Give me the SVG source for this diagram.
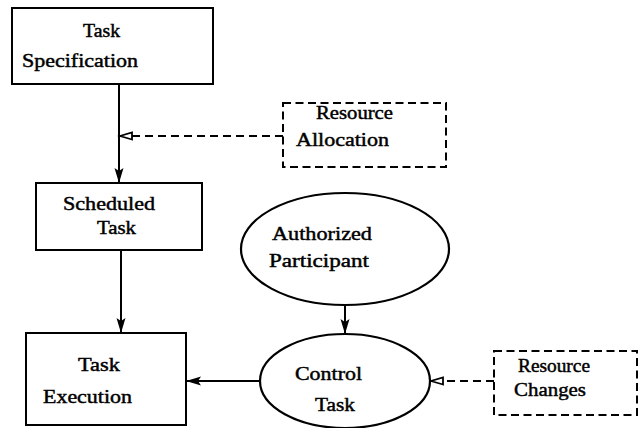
<svg xmlns="http://www.w3.org/2000/svg" width="639" height="428" viewBox="0 0 639 428">
  <style>
    .box { fill: #fff; stroke: #000; stroke-width: 2; }
    .dash { fill: #fff; stroke: #000; stroke-width: 2; stroke-dasharray: 8 4.5; }
    .oval { fill: #fff; stroke: #000; stroke-width: 2.2; }
    .lbl { font-family: "Liberation Serif", "Times New Roman", serif; font-size: 18.5px; fill: #000; stroke: #000; stroke-width: 0.45; }
    .edge { fill: none; stroke: #000; stroke-width: 2; }
    .edge-dash { fill: none; stroke: #000; stroke-width: 2; stroke-dasharray: 8 5; }
  </style>
  <defs>
    <marker id="solid-head" markerUnits="userSpaceOnUse" markerWidth="16" markerHeight="10" refX="15" refY="5" orient="auto">
      <path d="M0,0.5 L15,5 L0,9.5 L3,5 z" fill="#000" stroke="none"/>
    </marker>
    <marker id="open-head" markerUnits="userSpaceOnUse" markerWidth="16" markerHeight="12" refX="13" refY="5" orient="auto">
      <path d="M1,1.5 L13,5 L1,8.5 z" fill="#fff" stroke="#000" stroke-width="1.8" stroke-dasharray="none"/>
    </marker>
  </defs>

  <!-- connectors -->
  <g id="connectors">
    <path class="edge" d="M119,84 L119,183" marker-end="url(#solid-head)"/>
    <path class="edge-dash" d="M283,136 L120,136" marker-end="url(#open-head)"/>
    <path class="edge" d="M121,250 L121,333" marker-end="url(#solid-head)"/>
    <path class="edge" d="M345,305 L345,334" marker-end="url(#solid-head)"/>
    <path class="edge" d="M260,381 L186,381" marker-end="url(#solid-head)"/>
    <path class="edge-dash" d="M494,381 L431,381" marker-end="url(#open-head)"/>
  </g>

  <!-- nodes -->
  <g id="task-specification">
    <rect class="box" x="12" y="8" width="201" height="76"/>
    <text class="lbl" x="83" y="37" textLength="37" lengthAdjust="spacingAndGlyphs">Task</text>
    <text class="lbl" x="22" y="67" textLength="116" lengthAdjust="spacingAndGlyphs">Specification</text>
  </g>

  <g id="resource-allocation">
    <rect class="dash" x="283" y="103" width="163" height="64"/>
    <text class="lbl" x="316" y="119" textLength="77" lengthAdjust="spacingAndGlyphs">Resource</text>
    <text class="lbl" x="296" y="146" textLength="93" lengthAdjust="spacingAndGlyphs">Allocation</text>
  </g>

  <g id="scheduled-task">
    <rect class="box" x="36" y="183" width="166" height="67"/>
    <text class="lbl" x="63" y="210" textLength="92" lengthAdjust="spacingAndGlyphs">Scheduled</text>
    <text class="lbl" x="97" y="234" textLength="39" lengthAdjust="spacingAndGlyphs">Task</text>
  </g>

  <g id="authorized-participant">
    <ellipse class="oval" cx="345" cy="249" rx="104" ry="56"/>
    <text class="lbl" x="272" y="240" textLength="100" lengthAdjust="spacingAndGlyphs">Authorized</text>
    <text class="lbl" x="269" y="267" textLength="100" lengthAdjust="spacingAndGlyphs">Participant</text>
  </g>

  <g id="task-execution">
    <rect class="box" x="26" y="333" width="160" height="92"/>
    <text class="lbl" x="78" y="371" textLength="42" lengthAdjust="spacingAndGlyphs">Task</text>
    <text class="lbl" x="43" y="403" textLength="89" lengthAdjust="spacingAndGlyphs">Execution</text>
  </g>

  <g id="control-task">
    <ellipse class="oval" cx="345" cy="381" rx="85" ry="47"/>
    <text class="lbl" x="295" y="380" textLength="67" lengthAdjust="spacingAndGlyphs">Control</text>
    <text class="lbl" x="315" y="411" textLength="40" lengthAdjust="spacingAndGlyphs">Task</text>
  </g>

  <g id="resource-changes">
    <rect class="dash" x="494" y="351" width="143" height="64"/>
    <text class="lbl" x="518" y="372" textLength="72" lengthAdjust="spacingAndGlyphs">Resource</text>
    <text class="lbl" x="514" y="396" textLength="72" lengthAdjust="spacingAndGlyphs">Changes</text>
  </g>
</svg>
